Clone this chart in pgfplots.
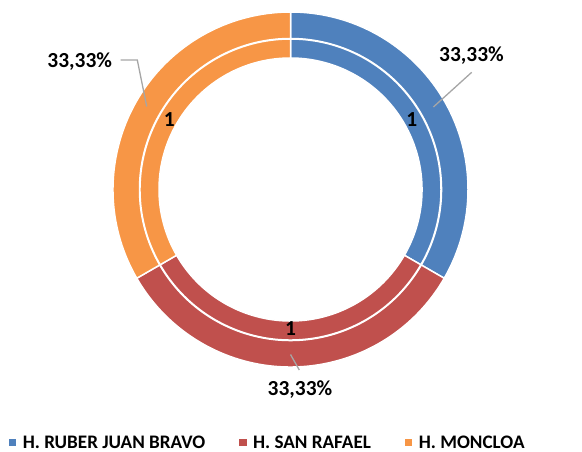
\documentclass[border=0pt]{standalone}
\usepackage{pgfplots}
\usepackage{pgfplotstable}
\pgfplotsset{compat=1.18}
\usepackage{fontspec}
\setmainfont{Carlito}
\definecolor{blueC}{HTML}{4F81BD}
\definecolor{redC}{HTML}{C0504D}
\definecolor{orangeC}{HTML}{F79646}
\definecolor{leadC}{HTML}{A6A6A6}

\pgfplotstableread[col sep=comma]{
hospital,value
H. RUBER JUAN BRAVO,1
H. SAN RAFAEL,1
H. MONCLOA,1
}\datatable

\pgfplotstablegetelem{0}{value}\of\datatable\let\vA\pgfplotsretval
\pgfplotstablegetelem{1}{value}\of\datatable\let\vB\pgfplotsretval
\pgfplotstablegetelem{2}{value}\of\datatable\let\vC\pgfplotsretval
\pgfmathsetmacro\tot{\vA+\vB+\vC}
\pgfmathsetmacro\aA{90}
\pgfmathsetmacro\aB{\aA-360*\vA/\tot}
\pgfmathsetmacro\aC{\aB-360*\vB/\tot}
\pgfmathsetmacro\aD{\aC-360*\vC/\tot}
\pgfmathsetmacro\mA{(\aA+\aB)/2}
\pgfmathsetmacro\mB{(\aB+\aC)/2}
\pgfmathsetmacro\mC{(\aC+\aD)/2}
\pgfmathsetmacro\pA{100*\vA/\tot}
\pgfmathsetmacro\pB{100*\vB/\tot}
\pgfmathsetmacro\pC{100*\vC/\tot}
\newcommand\pct[1]{\pgfmathprintnumber[fixed,fixed zerofill,precision=2,use comma,assume math mode=true]{#1}\%}
\newcommand\lblfont{\fontsize{21.5}{24}\selectfont\bfseries}

% one ring segment: colour, start angle, end angle, inner radius, outer radius
\newcommand\donutseg[5]{%
  \path[fill=#1, draw=white, line width=1.5bp, line join=miter]
    ([shift={(#2:#5)}]axis cs:290.5,262.5) arc[start angle=#2, end angle=#3, radius=#5]
    -- ([shift={(#3:#4)}]axis cs:290.5,262.5) arc[start angle=#3, end angle=#2, radius=#4]
    -- cycle;}

\begin{document}%
\begin{tikzpicture}
\begin{axis}[
  scale only axis, width=582bp, height=452bp,
  xmin=0, xmax=582, ymin=0, ymax=452,
  hide axis, clip=false,
  legend columns=3,
  legend style={at={(axis cs:9,3.3)}, anchor=south west, draw=none, fill=none,
    inner sep=0pt, outer sep=0pt,
    font=\fontsize{19.2}{21}\selectfont\bfseries,
    nodes={inner xsep=0pt, inner ysep=0pt, text depth=0pt},
    /tikz/every odd column/.append style={column sep=7bp},
    /tikz/every even column/.append style={column sep=34bp}},
]
\path (rel axis cs:0,0) rectangle (rel axis cs:1,1);
% outer ring
\donutseg{blueC}{\aA}{\aB}{151bp}{177.5bp}
\donutseg{redC}{\aB}{\aC}{151bp}{177.5bp}
\donutseg{orangeC}{\aC}{\aD}{151bp}{177.5bp}
% inner ring
\donutseg{blueC}{\aA}{\aB}{131.5bp}{150.5bp}
\donutseg{redC}{\aB}{\aC}{131.5bp}{150.5bp}
\donutseg{orangeC}{\aC}{\aD}{131.5bp}{150.5bp}
% inner values
\node[inner sep=0pt, font=\lblfont] at ([shift={(\mA:140bp)}]axis cs:290.5,262.5) {\vA};
\node[inner sep=0pt, font=\lblfont] at ([shift={(\mB:139bp)}]axis cs:290.5,262.5) {\vB};
\node[inner sep=0pt, font=\lblfont] at ([shift={(\mC:140bp)}]axis cs:290.5,262.5) {\vC};
% leader lines
\draw[leadC, line width=1.3bp] ([shift={(\mA:165bp)}]axis cs:290.5,262.5) -- (axis cs:471.7,379.7);
\draw[leadC, line width=1.3bp] ([shift={(\mB:165bp)}]axis cs:290.5,262.5) -- (axis cs:299.3,82);
\draw[leadC, line width=1.3bp] ([shift={(\mC:166bp)}]axis cs:290.5,262.5) -- (axis cs:137.3,392) -- (axis cs:120.7,392);
% percentage labels
\node[inner sep=0pt, anchor=base, font=\lblfont] at (axis cs:471.5,390) {\pct{\pA}};
\node[inner sep=0pt, anchor=base, font=\lblfont] at (axis cs:300,56.3) {\pct{\pB}};
\node[inner sep=0pt, anchor=base, font=\lblfont] at (axis cs:79.7,384.7) {\pct{\pC}};
% legend
\addlegendimage{legend image code/.code={\fill[blueC] (0bp,-3.25bp) rectangle (6.5bp,3.25bp);}}
\addlegendentry{H. RUBER JUAN BRAVO}
\addlegendimage{legend image code/.code={\fill[redC] (0bp,-3.25bp) rectangle (6.5bp,3.25bp);}}
\addlegendentry{H. SAN RAFAEL}
\addlegendimage{legend image code/.code={\fill[orangeC] (0bp,-3.25bp) rectangle (6.5bp,3.25bp);}}
\addlegendentry{H. MONCLOA}
\end{axis}
\end{tikzpicture}%
\end{document}
